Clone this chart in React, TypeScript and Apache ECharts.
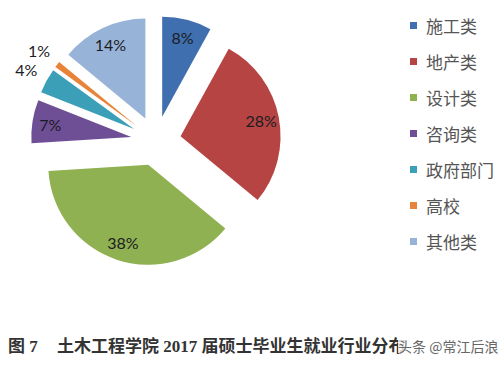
import React, { useEffect, useRef } from "react";
import * as echarts from "echarts";

const categories = ["施工类", "地产类", "设计类", "咨询类", "政府部门", "高校", "其他类"];
const values = [8, 28, 38, 7, 4, 1, 14];
const colors = ["#3f6fae", "#b54442", "#8fb152", "#6e4f96", "#3c9fb8", "#e8843a", "#97b3d8"];
const outsideLabels = ["政府部门", "高校"];
const captionFig = "图 7";
const captionText = "土木工程学院 2017 届硕士毕业生就业行业分布";
const watermark = "头条 @常江后浪";

export default function App() {
  const ref = useRef<HTMLDivElement>(null);
  useEffect(() => {
    if (!ref.current) return;
    const chart = echarts.init(ref.current, undefined, { renderer: "svg" });
    const center = [156, 141];
    const labelStyle = {
      formatter: "{c}%",
      fontFamily: "Lato",
      fontSize: 16,
      color: "#1c1c24",
      padding: [10, 0, 0, 0],
    };
    const mainData = categories.map((name, i) => ({
      name,
      value: values[i],
      selected: true,
      itemStyle: { color: colors[i] },
    }));
    const innerLabelData = categories.map((name, i) => ({
      name,
      value: values[i],
      selected: true,
      label: {
        show: !outsideLabels.includes(name),
        padding: name === "地产类" ? [20, 0, 0, 0] : [10, 0, 0, 0],
      },
    }));
    const outerLabelData = categories.map((name, i) => ({
      name,
      value: values[i],
      selected: true,
      label: { show: outsideLabels.includes(name) },
    }));
    const overlayBase = {
      type: "pie",
      center,
      startAngle: 90,
      clockwise: true,
      selectedMode: "multiple",
      selectedOffset: 25,
      silent: true,
      avoidLabelOverlap: false,
      itemStyle: { color: "rgba(0,0,0,0)", borderWidth: 0 },
      emphasis: { disabled: true },
      labelLine: { show: false },
    };
    chart.setOption({
      animation: false,
      backgroundColor: "#ffffff",
      legend: {
        orient: "vertical",
        left: 405,
        top: 12,
        icon: "rect",
        itemWidth: 7,
        itemHeight: 7,
        itemGap: 19,
        data: categories,
        selectedMode: false,
        textStyle: {
          fontFamily: "Noto Sans CJK SC",
          fontSize: 17,
          lineHeight: 17,
          color: "#555555",
          padding: [0, 0, 0, 4],
        },
      },
      series: [
        {
          type: "pie",
          name: "main",
          center,
          radius: [0, 100],
          startAngle: 90,
          clockwise: true,
          selectedMode: "multiple",
          selectedOffset: 25,
          silent: true,
          label: { show: false },
          labelLine: { show: false },
          itemStyle: { borderWidth: 0 },
          emphasis: { disabled: true },
          data: mainData,
        },
        {
          ...overlayBase,
          name: "innerLabels",
          radius: [58, 100],
          label: { ...labelStyle, position: "inside" },
          data: innerLabelData,
        },
        {
          ...overlayBase,
          name: "outerLabels",
          radius: [106, 134],
          label: { ...labelStyle, position: "inside", padding: [4, 0, 0, 0] },
          data: outerLabelData,
        },
      ],
      graphic: [
        {
          type: "text",
          left: 8,
          top: 338,
          style: {
            text: captionFig,
            font: "bold 17px 'Liberation Serif', 'Noto Sans CJK SC'",
            fill: "#333333",
          },
        },
        {
          type: "text",
          left: 57,
          top: 338,
          style: {
            text: captionText,
            font: "bold 17px 'Liberation Serif', 'Noto Sans CJK SC'",
            fill: "#333333",
          },
        },
        {
          type: "text",
          left: 398,
          top: 339,
          z: 10,
          style: {
            text: watermark,
            font: "14px 'Noto Sans CJK SC'",
            fill: "#666666",
            backgroundColor: "rgba(255,255,255,0.8)",
          },
        },
      ],
    });
    return () => chart.dispose();
  }, []);
  return (
    <div
      ref={ref}
      style={{ position: "fixed", left: 0, top: 0, width: 501, height: 370 }}
    />
  );
}
